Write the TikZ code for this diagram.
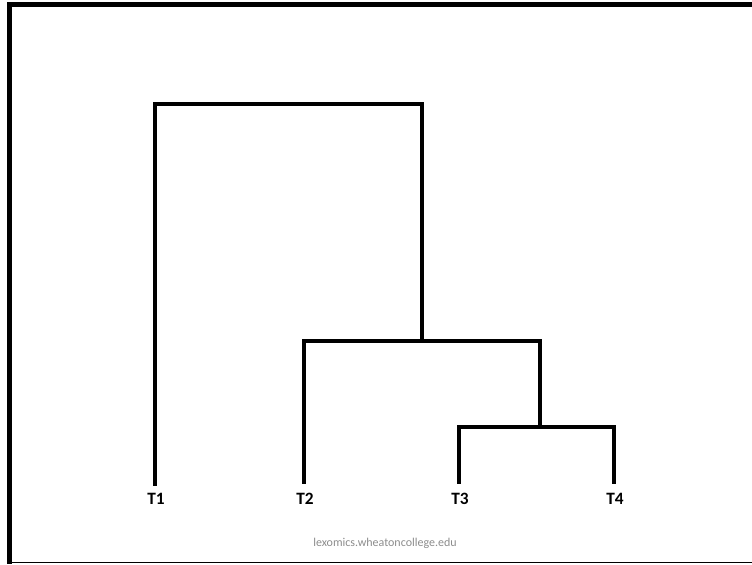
\documentclass[tikz,border=0pt]{standalone}
\usepackage{fontspec}
\setmainfont{Carlito}
\usetikzlibrary{positioning}
\definecolor{FrameBlack}{RGB}{0,0,0}
\definecolor{NoteGray}{RGB}{140,140,140}
\tikzset{
  branch/.style={line width=2.3pt,FrameBlack,line cap=rect,line join=miter},
  leaf/.style={font=\bfseries\fontsize{13}{15}\selectfont,inner sep=0pt},
  note/.style={font=\fontsize{9}{11}\selectfont,text=NoteGray,inner sep=0pt}
}

\begin{document}
\begin{tikzpicture}[x=0.75pt,y=-0.75pt]
\useasboundingbox (0,0) rectangle (752,564);

% Frame
\fill[FrameBlack] (7,2) rectangle (752,7);
\fill[FrameBlack] (7,2) rectangle (12,564);
\draw[FrameBlack,line width=0.9pt] (12,562.5) -- (752,562.5);

% Leaves
\node[leaf] (t1) at (156,499) {T1};
\node[leaf] (t2) at (305,499) {T2};
\node[leaf] (t3) at (460,499) {T3};
\node[leaf] (t4) at (615,499) {T4};

\coordinate (t1end) at (155,484);
\coordinate (t2end) at (304,482);
\coordinate (t3end) at (459,482);
\coordinate (t4end) at (614,482);

% Joins
\coordinate (j34) at (540,427);
\coordinate (j234) at (422,341);
\coordinate (root) at (422,104);

\draw[branch] (t3end) |- (j34) -| (t4end);
\draw[branch] (t2end) |- (j234) -| (j34);
\draw[branch] (t1end) |- (root) -- (j234);

% Site
\node[note] (site) at (385,543) {lexomics.wheatoncollege.edu};

\end{tikzpicture}
\end{document}
